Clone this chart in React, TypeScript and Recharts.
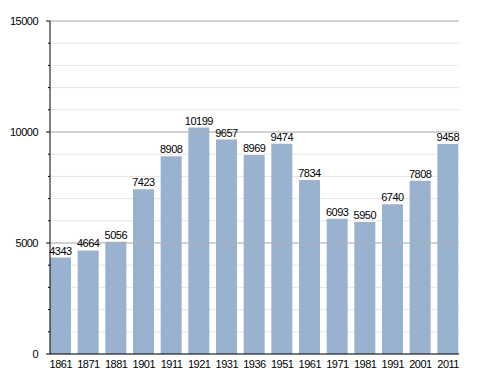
import React from 'react';
import {BarChart, Bar, XAxis, YAxis, CartesianGrid, ReferenceLine, LabelList} from 'recharts';

// census years and population
const years = ['1861', '1871', '1881', '1901', '1911', '1921', '1931', '1936', '1951', '1961', '1971', '1981', '1991', '2001', '2011'];
const population = [4343, 4664, 5056, 7423, 8908, 10199, 9657, 8969, 9474, 7834, 6093, 5950, 6740, 7808, 9458];
const yTicks = [0, 1000, 2000, 3000, 4000, 5000, 6000, 7000, 8000, 9000, 10000, 11000, 12000, 13000, 14000, 15000];
const majorTicks = [5000, 10000, 15000];

const data = years.map((y, i) => ({year: y, pop: population[i]}));

const FONT = "'Liberation Sans', Arial, sans-serif";
const FS = 11;
const LS = -0.5;

// y tick: short mark for every 1000, label only at the major ones
const YTick = (props: any) => {
    const {y, payload} = props;
    const major = majorTicks.includes(payload.value) || payload.value === 0;
    return (
        <g>
            <line x1={major ? 46 : 48} x2={50} y1={y} y2={y} stroke="#000" strokeWidth={1}/>
            {major && (
                <text x={38} y={y} dy={4} textAnchor="end" fontSize={FS} fontFamily={FONT} letterSpacing={LS} fill="#000">
                    {payload.value}
                </text>
            )}
        </g>
    );
};

export default function App() {
    return (
        <div style={{position: 'absolute', left: 0, top: 0, background: '#fff'}}>
            <BarChart
                width={488}
                height={373}
                data={data}
                margin={{top: 21, right: 29, left: 0, bottom: 0}}
                barSize={21}
            >
                <CartesianGrid vertical={false} stroke="#e6e6e6" horizontalValues={yTicks}/>
                {majorTicks.map(v => (
                    <ReferenceLine key={v} y={v} stroke="#b0b0b0" strokeWidth={1}/>
                ))}
                <XAxis
                    dataKey="year"
                    height={19}
                    tickLine={false}
                    axisLine={{stroke: '#000'}}
                    padding={{left: -3, right: -3}}
                    tick={{fontSize: FS, fontFamily: FONT, fill: '#000', letterSpacing: LS}}
                    tickMargin={0}
                    interval={0}
                />
                <YAxis
                    width={50}
                    domain={[0, 15000]}
                    ticks={yTicks}
                    interval={0}
                    tickLine={false}
                    axisLine={{stroke: '#000'}}
                    tick={<YTick/>}
                />
                <Bar dataKey="pop" fill="#99b2cf" isAnimationActive={false}>
                    <LabelList dataKey="pop" position="top" offset={3} fontSize={FS} fontFamily={FONT} letterSpacing={LS} fill="#000"/>
                </Bar>
            </BarChart>
        </div>
    );
}
